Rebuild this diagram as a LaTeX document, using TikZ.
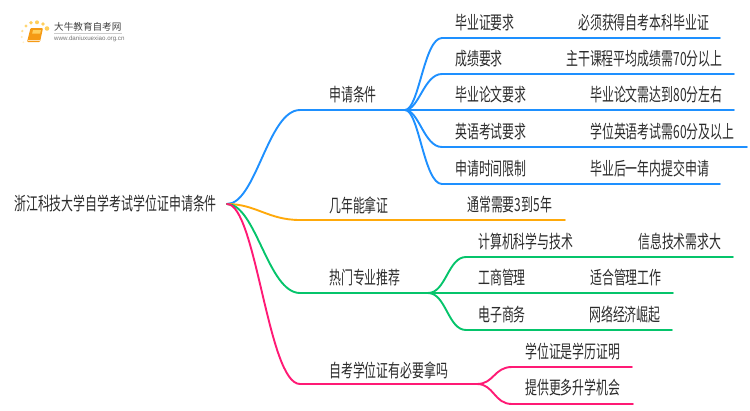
\documentclass[tikz,border=0pt]{standalone}
\usepackage{fontspec}
\setmainfont[FakeStretch=0.655]{Noto Sans CJK SC}
\newfontfamily\logofont{Noto Sans CJK SC}
\newfontfamily\urlfont{Liberation Sans}
\definecolor{applyblue}{HTML}{1E90FF}
\definecolor{yearorange}{HTML}{FFA90A}
\definecolor{majorgreen}{HTML}{05C46B}
\definecolor{needpink}{HTML}{FF1A75}
\definecolor{labelgray}{HTML}{2B2B2B}
\definecolor{logogold}{HTML}{FFCF5C}
\definecolor{logobook}{HTML}{F59A14}
\tikzset{
  branch/.style = {line width = 1.9pt, line cap = round},
  label/.style = {anchor = west, inner sep = 0pt, text = labelgray, font = \fontsize{18.2}{20}\selectfont},
}
\begin{document}
\begin{tikzpicture}[x = 1pt, y = -1pt]
\useasboundingbox (0,0) rectangle (750,410);

% logo
\fill[logobook, rounded corners = 1pt] (30.5,28) -- (43,28) -- (40,42) -- (27,42) -- cycle;
\fill[logogold] (33,30) -- (41,30) -- (40.2,33.5) -- (32.2,33.5) -- cycle;
\draw[white!70!logobook, line width = 0.7pt] (28,40.3) -- (40,40.3);
\foreach \x/\y/\r/\o in {47/28.5/2.3/100, 43/24/1.9/100, 37/22.3/2/100, 31/22.8/1.9/100, 26/26/1.6/85, 22.3/31/1.3/65, 21.8/37/1.1/45, 23.4/42.3/1/30}
   \fill[logogold, opacity = \o/100] (\x,\y) circle (\r);
\node[anchor = west, inner sep = 0pt, text = black!75, font = \logofont\fontsize{9.6}{10}\selectfont] (logoname) at (54,27) {大牛教育自考网};
\node[anchor = west, inner sep = 0pt, text = black!55, font = \urlfont\fontsize{6.2}{7}\selectfont] (logourl) at (54,39) {www.daniuxuexiao.org.cn};
\draw[black!20, very thin] (54,33) -- (122,33);

% root
\node[label] (root) at (14,204) {浙江科技大学自学考试学位证申请条件};
\coordinate (start) at (227,204);

% first level
\foreach \name/\y/\xsplit/\col/\txt/\ty in {apply/110/405/applyblue/申请条件/95, years/220/565/yearorange/几年能拿证/205, major/293/428/majorgreen/热门专业推荐/278, need/384/477/needpink/自考学位证有必要拿吗/370}{
   \coordinate (\name) at (\xsplit,\y);
   \draw[branch, \col] (start) .. controls (256,204) and (268,\y) .. (300,\y) -- (\name);
   \node[label] (\name label) at (329,\ty) {\txt};
   }
\node[label] (yearsvalue) at (467,205) {通常需要3到5年};

% second level, blue
\foreach \name/\y/\xend/\txt/\xval/\val in {
   diploma/38/720/毕业证要求/578/必须获得自考本科毕业证,
   grade/74/734/成绩要求/566/主干课程平均成绩需70分以上,
   thesis/110/734/毕业论文要求/590/毕业论文需达到80分左右,
   english/147/747/英语考试要求/590/学位英语考试需60分及以上,
   deadline/184/720/申请时间限制/590/毕业后一年内提交申请}{
   \coordinate (\name) at (\xend,\y);
   \draw[branch, applyblue] (apply) .. controls (419,110) and (424,\y) .. (442,\y) -- (\name);
   \node[label] (\name label) at (455,\y-15) {\txt};
   \node[label] (\name value) at (\xval,\y-15) {\val};
   }

% second level, green
\foreach \name/\y/\xend/\txt/\xval/\val in {
   computer/257/733/计算机科学与技术/638/信息技术需求大,
   business/293/673/工商管理/590/适合管理工作,
   commerce/330/672/电子商务/589/网络经济崛起}{
   \coordinate (\name) at (\xend,\y);
   \draw[branch, majorgreen] (major) .. controls (446,293) and (448,\y) .. (466,\y) -- (\name);
   \node[label] (\name label) at (478,\y-15) {\txt};
   \node[label] (\name value) at (\xval,\y-15) {\val};
   }

% second level, pink
\foreach \name/\y/\xend/\txt/\ty in {
   record/367/632/学位证是学历证明/352,
   further/404/633/提供更多升学机会/388}{
   \coordinate (\name) at (\xend,\y);
   \draw[branch, needpink] (need) .. controls (494,384) and (494,\y) .. (512,\y) -- (\name);
   \node[label] (\name label) at (525,\ty) {\txt};
   }
\end{tikzpicture}
\end{document}
